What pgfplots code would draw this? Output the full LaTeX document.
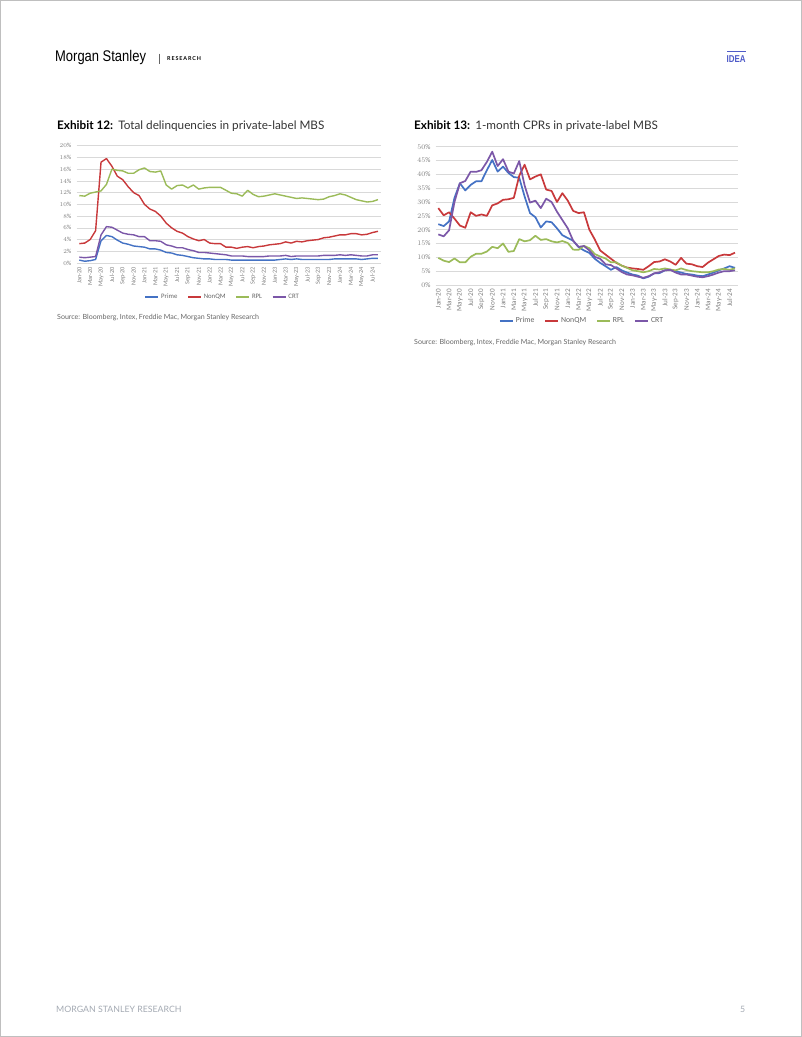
\documentclass[border=0pt]{standalone}
\usepackage{pgfplots}
\pgfplotsset{compat=1.18}
\usepackage{pgfplotstable}
\usepackage{fontspec}
\setmainfont{Lato}
\newfontfamily\chartfont{Carlito}
\newfontfamily\msfont{Liberation Sans}

\definecolor{cPrime}{HTML}{4472C4}
\definecolor{cNonQM}{HTML}{C8393B}
\definecolor{cRPL}{HTML}{9BBB59}
\definecolor{cCRT}{HTML}{7B57A8}
\definecolor{gridgray}{HTML}{D9D9D9}
\definecolor{labelgray}{HTML}{7F7F7F}
\definecolor{ideablue}{HTML}{4F5BC8}
\definecolor{footgray}{HTML}{A3A9B2}

% Exhibit 12: total delinquencies (%), Jan-20 .. Aug-24
\pgfplotstableread{
i prime nonqm rpl crt
0 0.5 3.3 11.5 1.0
1 0.3 3.4 11.4 0.9
2 0.4 4.0 11.9 1.0
3 0.6 5.5 12.1 1.1
4 3.8 17.2 12.3 4.8
5 4.7 17.8 13.4 6.2
6 4.5 16.5 16.0 6.1
7 3.9 14.8 15.8 5.6
8 3.4 14.2 15.7 5.1
9 3.2 13.0 15.3 4.9
10 2.9 12.0 15.3 4.8
11 2.8 11.5 15.9 4.5
12 2.7 10.0 16.2 4.5
13 2.4 9.2 15.6 3.8
14 2.4 8.8 15.5 3.8
15 2.2 8.0 15.7 3.7
16 1.8 6.8 13.3 3.1
17 1.7 6.0 12.6 2.9
18 1.4 5.4 13.2 2.6
19 1.3 5.1 13.3 2.6
20 1.1 4.5 12.8 2.3
21 0.9 4.1 13.3 2.1
22 0.8 3.8 12.6 1.8
23 0.7 4.0 12.8 1.8
24 0.7 3.4 12.9 1.7
25 0.6 3.3 12.9 1.6
26 0.6 3.3 12.9 1.5
27 0.6 2.7 12.4 1.4
28 0.5 2.7 11.9 1.2
29 0.5 2.5 11.8 1.2
30 0.5 2.7 11.4 1.2
31 0.5 2.8 12.4 1.1
32 0.5 2.6 11.7 1.1
33 0.5 2.8 11.3 1.1
34 0.5 2.9 11.4 1.1
35 0.5 3.1 11.6 1.2
36 0.5 3.2 11.8 1.2
37 0.6 3.3 11.6 1.2
38 0.7 3.6 11.4 1.3
39 0.6 3.4 11.2 1.1
40 0.7 3.7 11.0 1.2
41 0.6 3.6 11.1 1.2
42 0.6 3.8 11.0 1.2
43 0.6 3.9 10.9 1.2
44 0.6 4.0 10.8 1.2
45 0.6 4.3 10.9 1.3
46 0.6 4.4 11.3 1.3
47 0.7 4.6 11.5 1.3
48 0.7 4.8 11.8 1.4
49 0.7 4.8 11.6 1.3
50 0.7 5.0 11.2 1.4
51 0.7 5.0 10.8 1.3
52 0.6 4.8 10.6 1.2
53 0.7 4.9 10.4 1.2
54 0.8 5.2 10.5 1.4
55 0.8 5.4 10.8 1.4
}\delinq

% Exhibit 13: 1-month CPR (%), Jan-20 .. Aug-24
\pgfplotstableread{
i prime nonqm rpl crt
0 22.0 27.8 9.8 18.3
1 21.3 25.2 8.8 17.6
2 23.0 26.3 8.3 19.8
3 31.5 24.0 9.6 30.0
4 36.8 21.5 8.2 36.8
5 34.2 20.7 8.2 37.6
6 36.2 26.3 10.2 41.0
7 37.5 25.0 11.3 40.9
8 37.5 25.5 11.3 41.5
9 41.5 25.0 12.1 44.5
10 45.2 28.8 13.8 48.2
11 41.0 29.5 13.3 43.0
12 42.8 30.8 15.0 45.5
13 40.5 31.0 12.0 41.0
14 39.0 31.5 12.3 40.3
15 38.8 39.5 16.6 44.8
16 32.0 43.5 15.8 36.0
17 26.0 38.2 16.2 29.8
18 24.5 39.2 17.8 30.5
19 20.8 40.0 16.3 27.8
20 23.0 34.5 16.6 31.2
21 22.7 34.0 15.8 30.0
22 20.5 30.0 15.4 26.5
23 18.0 33.2 15.9 23.5
24 17.0 30.5 15.2 20.5
25 16.0 26.8 12.8 16.0
26 13.7 26.0 12.7 13.8
27 12.5 26.3 14.2 14.1
28 11.6 20.0 13.3 12.5
29 9.5 16.5 11.2 10.2
30 8.0 12.5 10.3 9.5
31 6.8 11.0 9.6 7.5
32 5.5 9.5 8.2 7.2
33 6.5 8.0 8.2 6.0
34 5.3 7.0 7.0 4.7
35 4.5 6.3 6.2 3.8
36 3.8 6.0 5.3 3.5
37 3.4 5.8 5.0 3.0
38 2.4 5.5 4.6 2.6
39 3.0 6.8 5.0 3.2
40 4.2 8.3 5.8 4.2
41 4.3 8.5 5.6 4.6
42 5.3 9.3 6.0 5.3
43 5.5 8.5 5.6 5.5
44 5.0 7.3 5.3 4.5
45 4.5 9.8 6.0 3.8
46 4.0 7.7 5.4 3.8
47 3.8 7.5 5.0 3.4
48 3.4 6.8 4.8 3.0
49 3.2 6.5 4.6 2.8
50 3.8 8.1 4.6 3.2
51 4.5 9.3 5.0 3.8
52 5.3 10.5 5.6 4.5
53 6.0 11.0 5.8 5.0
54 6.8 10.8 5.5 5.0
55 6.2 11.7 6.0 5.3
}\cpr

\pgfplotsset{
  msaxis/.style={
    scale only axis,
    xmin=-0.5, xmax=55.5, ymin=0,
    axis line style={draw=none},
    major tick style={draw=none},
    ymajorgrids,
    grid style={draw=gridgray, line width=0.6bp},
    xtick={0,2,...,54},
    xticklabels={Jan-20,Mar-20,May-20,Jul-20,Sep-20,Nov-20,Jan-21,Mar-21,May-21,Jul-21,Sep-21,Nov-21,Jan-22,Mar-22,May-22,Jul-22,Sep-22,Nov-22,Jan-23,Mar-23,May-23,Jul-23,Sep-23,Nov-23,Jan-24,Mar-24,May-24,Jul-24},
    xticklabel style={rotate=90, anchor=east, inner sep=0pt, text=labelgray},
    yticklabel style={anchor=east, inner sep=0pt, text=labelgray},
    yticklabel={\pgfmathprintnumber{\tick}\%},
    xticklabel shift=4bp,
    yticklabel shift=5bp,
    legend columns=4,
    legend cell align=left,
    legend style={draw=none, fill=none, anchor=center, text=labelgray!80!black,
      /tikz/every even column/.append style={column sep=8bp}},
    legend image code/.code={\draw[#1] (0bp,0bp) -- (13bp,0bp);},
    every axis plot/.append style={mark=none, line join=round},
  }
}

\begin{document}
\begin{tikzpicture}[x=1bp, y=-1bp]
\path[use as bounding box] (0,0) rectangle (802,1037);
\draw[black!25, line width=0.8bp] (0.4,0.4) rectangle (801.6,1036.6);

% header
\node[anchor=west, inner sep=0pt, font=\msfont\fontsize{15.5}{16}\selectfont, xscale=0.84] at (55,58) {Morgan Stanley};
\draw[black!60, line width=0.5bp] (159.5,53.5) -- (159.5,63.5);
\node[anchor=west, inner sep=0pt, font=\bfseries\fontsize{5.4}{6}\selectfont] at (167,58.5) {R\,E\,S\,E\,A\,R\,C\,H};
\draw[ideablue, line width=1.2bp] (727,51.5) -- (745.5,51.5);
\node[anchor=west, inner sep=0pt, text=ideablue, font=\msfont\bfseries\fontsize{10}{10}\selectfont, xscale=0.8] at (726.5,58.8) {IDEA};

% footer
\node[anchor=west, inner sep=0pt, text=footgray, font=\fontsize{8.8}{9}\selectfont] at (56,1009) {MORGAN STANLEY RESEARCH};
\node[anchor=west, inner sep=0pt, text=footgray, font=\fontsize{8.8}{9}\selectfont] at (740,1009) {5};

% titles and sources
\node[anchor=west, inner sep=0pt, font=\fontsize{11.8}{12}\selectfont] at (57,126) {\textbf{Exhibit 12:}\hspace{5bp}{\color{black!80}Total delinquencies in private-label MBS}};
\node[anchor=west, inner sep=0pt, font=\fontsize{11.8}{12}\selectfont] at (414,126) {\textbf{Exhibit 13:}\hspace{5bp}{\color{black!80}1-month CPRs in private-label MBS}};
\node[anchor=west, inner sep=0pt, text=black!60, font=\fontsize{7.1}{8}\selectfont] at (57,318) {Source: Bloomberg, Intex, Freddie Mac, Morgan Stanley Research};
\node[anchor=west, inner sep=0pt, text=black!60, font=\fontsize{7.1}{8}\selectfont] at (414,343) {Source: Bloomberg, Intex, Freddie Mac, Morgan Stanley Research};

% Exhibit 12
\begin{axis}[msaxis,
  at={(76.6bp,-263bp)}, anchor=south west,
  width=304.1bp, height=117.3bp,
  ymax=20, ytick={0,2,...,20},
  ticklabel style={font=\chartfont\fontsize{6.3}{7}\selectfont},
  legend style={at={(0.481,-0.29)}, font=\chartfont\fontsize{6.8}{7}\selectfont},
  every axis plot/.append style={line width=1.4bp},
]
\addplot[cPrime] table[x=i, y=prime] {\delinq};
\addlegendentry{Prime}
\addplot[cNonQM] table[x=i, y=nonqm] {\delinq};
\addlegendentry{NonQM}
\addplot[cRPL] table[x=i, y=rpl] {\delinq};
\addlegendentry{RPL}
\addplot[cCRT] table[x=i, y=crt] {\delinq};
\addlegendentry{CRT}
\end{axis}

% Exhibit 13
\begin{axis}[msaxis,
  at={(435.6bp,-285bp)}, anchor=south west,
  width=302.1bp, height=138.3bp,
  ymax=50, ytick={0,5,...,50},
  ticklabel style={font=\chartfont\fontsize{7.2}{8}\selectfont},
  legend style={at={(0.485,-0.26)}, font=\chartfont\fontsize{7.8}{8}\selectfont},
  every axis plot/.append style={line width=1.7bp},
]
\addplot[cPrime] table[x=i, y=prime] {\cpr};
\addlegendentry{Prime}
\addplot[cNonQM] table[x=i, y=nonqm] {\cpr};
\addlegendentry{NonQM}
\addplot[cRPL] table[x=i, y=rpl] {\cpr};
\addlegendentry{RPL}
\addplot[cCRT] table[x=i, y=crt] {\cpr};
\addlegendentry{CRT}
\end{axis}
\end{tikzpicture}
\end{document}
